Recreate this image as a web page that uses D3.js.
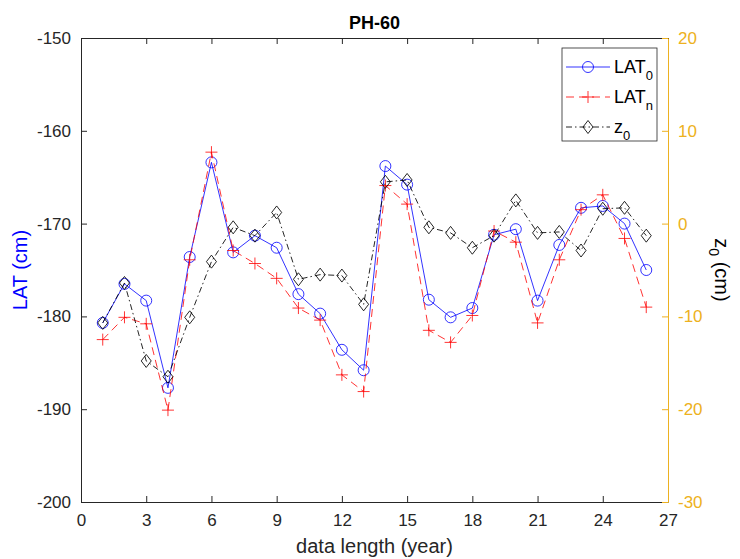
<!DOCTYPE html>
<html>
<head>
<meta charset="utf-8">
<script src="https://cdn.jsdelivr.net/npm/d3@7"></script>
<style>
  body { margin: 0; background: #fff; }
  svg text { font-family: "Liberation Sans", Arial, sans-serif; }
</style>
</head>
<body>
<div id="chart"></div>
<script>
// Data
const years = d3.range(1, 27);
const lat0 = [-180.7, -176.5, -178.3, -187.7, -173.6, -163.4, -173.1, -171.3, -172.6, -177.6,
              -179.7, -183.6, -185.8, -163.8, -165.8, -178.2, -180.1, -179.1, -171.2, -170.6,
              -178.3, -172.3, -168.3, -168.1, -170.0, -175.0];
const latN = [-182.5, -180.1, -180.8, -190.1, -173.9, -162.3, -172.9, -174.3, -175.9, -179.1,
              -180.4, -186.3, -188.1, -165.9, -167.9, -181.5, -182.8, -179.9, -170.8, -172.0,
              -180.7, -173.9, -168.5, -166.9, -171.6, -179.0];
const z0 = [-10.7, -6.4, -14.8, -16.5, -10.1, -4.1, -0.4, -1.3, 1.2, -6.0,
            -5.5, -5.6, -8.7, 4.5, 4.7, -0.4, -1.0, -2.6, -1.3, 2.5,
            -1.0, -0.9, -2.9, 1.6, 1.7, -1.3];
const xTicks = d3.range(0, 28, 3);
const leftTicks = [-200, -190, -180, -170, -160, -150];
const rightTicks = [-30, -20, -10, 0, 10, 20];

const W = 740, H = 559;
const margin = { top: 38, right: 72, bottom: 57, left: 81 };
const width = W - margin.left - margin.right;
const height = H - margin.top - margin.bottom;

const axisColor = '#262626';
const rightColor = '#EDB120';

const svg = d3.select('#chart').append('svg')
    .attr('width', W)
    .attr('height', H);

const g = svg.append('g')
    .attr('transform', `translate(${margin.left},${margin.top})`);

// Scales
const x = d3.scaleLinear().domain([0, 27]).range([0, width]);
const yL = d3.scaleLinear().domain([-200, -150]).range([height, 0]);
const yR = d3.scaleLinear().domain([-30, 20]).range([height, 0]);

// Axes (ticks pointing inwards, MATLAB style), plain hyphen minus
const fmt = d => String(d);
const styleAxis = (sel, color) => {
    sel.selectAll('.domain').attr('stroke', color);
    sel.selectAll('.tick line').attr('stroke', color);
    sel.selectAll('.tick text').attr('fill', color).style('font-size', '17px');
};

g.append('g')
    .attr('transform', `translate(0,${height})`)
    .call(d3.axisBottom(x).tickValues(xTicks).tickFormat(fmt).tickSizeInner(-6).tickSizeOuter(0).tickPadding(12))
    .call(sel => styleAxis(sel, axisColor));

g.append('g')
    .call(d3.axisTop(x).tickValues(xTicks).tickSizeInner(-6).tickSizeOuter(0).tickFormat(''))
    .call(sel => styleAxis(sel, axisColor));

g.append('g')
    .call(d3.axisLeft(yL).tickValues(leftTicks).tickFormat(fmt).tickSizeInner(-6).tickSizeOuter(0).tickPadding(10))
    .call(sel => styleAxis(sel, axisColor));

g.append('g')
    .attr('transform', `translate(${width},0)`)
    .call(d3.axisRight(yR).tickValues(rightTicks).tickFormat(fmt).tickSizeInner(-6).tickSizeOuter(0).tickPadding(10))
    .call(sel => styleAxis(sel, rightColor));

// Series
const series = [
    { name: 'LAT', sub: '0', values: lat0, y: yL, color: '#0000ff', dash: null, marker: 'circle', opacity: 0.8 },
    { name: 'LAT', sub: 'n', values: latN, y: yL, color: '#ff0000', dash: '8,5', marker: 'plus', opacity: 0.8 },
    { name: 'z', sub: '0', values: z0, y: yR, color: '#000000', dash: '6,3,1.5,3', marker: 'diamond', opacity: 0.85 }
];

const drawMarker = (sel, type, color) => {
    if (type === 'circle') {
        sel.append('circle').attr('r', 5.5)
            .attr('fill', 'none').attr('stroke', color).attr('stroke-width', 1);
    } else if (type === 'plus') {
        sel.append('path').attr('d', 'M-6,0H6M0,-6V6')
            .attr('fill', 'none').attr('stroke', color).attr('stroke-width', 1);
    } else {
        sel.append('path').attr('d', 'M0,-6.5L5,0L0,6.5L-5,0Z')
            .attr('fill', 'none').attr('stroke', color).attr('stroke-width', 1);
    }
};

series.forEach(s => {
    const line = d3.line()
        .x((d, i) => x(years[i]))
        .y(d => s.y(d));

    g.append('path')
        .datum(s.values)
        .attr('d', line)
        .attr('fill', 'none')
        .attr('stroke', s.color)
        .attr('stroke-width', 1)
        .attr('stroke-opacity', s.opacity)
        .attr('stroke-dasharray', s.dash);

    g.selectAll(null)
        .data(s.values)
        .enter()
        .append('g')
        .attr('transform', (d, i) => `translate(${x(years[i])},${s.y(d)})`)
        .attr('opacity', s.opacity)
        .each(function () { drawMarker(d3.select(this), s.marker, s.color); });
});

// Legend
const legend = svg.append('g').attr('transform', 'translate(562,48)');
legend.append('rect')
    .attr('width', 95).attr('height', 93)
    .attr('fill', '#fff').attr('stroke', axisColor).attr('stroke-width', 0.8);

series.forEach((s, i) => {
    const row = legend.append('g').attr('transform', `translate(0,${19 + i * 30})`);
    row.append('line')
        .attr('x1', 4).attr('x2', 48)
        .attr('stroke', s.color).attr('stroke-width', 1)
        .attr('stroke-opacity', s.opacity)
        .attr('stroke-dasharray', s.dash);
    drawMarker(row.append('g').attr('transform', 'translate(26,0)').attr('opacity', s.opacity), s.marker, s.color);
    const t = row.append('text')
        .attr('x', 52).attr('y', 6)
        .attr('fill', '#000')
        .style('font-size', '18px');
    t.append('tspan').text(s.name);
    t.append('tspan').attr('dy', 7).style('font-size', '13px').text(s.sub);
});

// Title
svg.append('text')
    .attr('x', margin.left + width / 2)
    .attr('y', 29)
    .attr('text-anchor', 'middle')
    .attr('font-weight', 'bold')
    .style('font-size', '18px')
    .attr('fill', '#000')
    .text('PH-60');

// X label
svg.append('text')
    .attr('x', margin.left + width / 2)
    .attr('y', 553)
    .attr('text-anchor', 'middle')
    .style('font-size', '20px')
    .attr('fill', axisColor)
    .text('data length (year)');

// Left Y label
svg.append('text')
    .attr('transform', `translate(27,${margin.top + height / 2}) rotate(-90)`)
    .attr('text-anchor', 'middle')
    .style('font-size', '20px')
    .attr('fill', '#0000ff')
    .text('LAT (cm)');

// Right Y label
const rl = svg.append('text')
    .attr('transform', `translate(715,${margin.top + height / 2}) rotate(90)`)
    .attr('text-anchor', 'middle')
    .style('font-size', '20px')
    .attr('fill', '#000');
rl.append('tspan').text('z');
rl.append('tspan').attr('dy', 6).style('font-size', '14px').text('0');
rl.append('tspan').attr('dy', -6).text(' (cm)');
</script>
</body>
</html>
